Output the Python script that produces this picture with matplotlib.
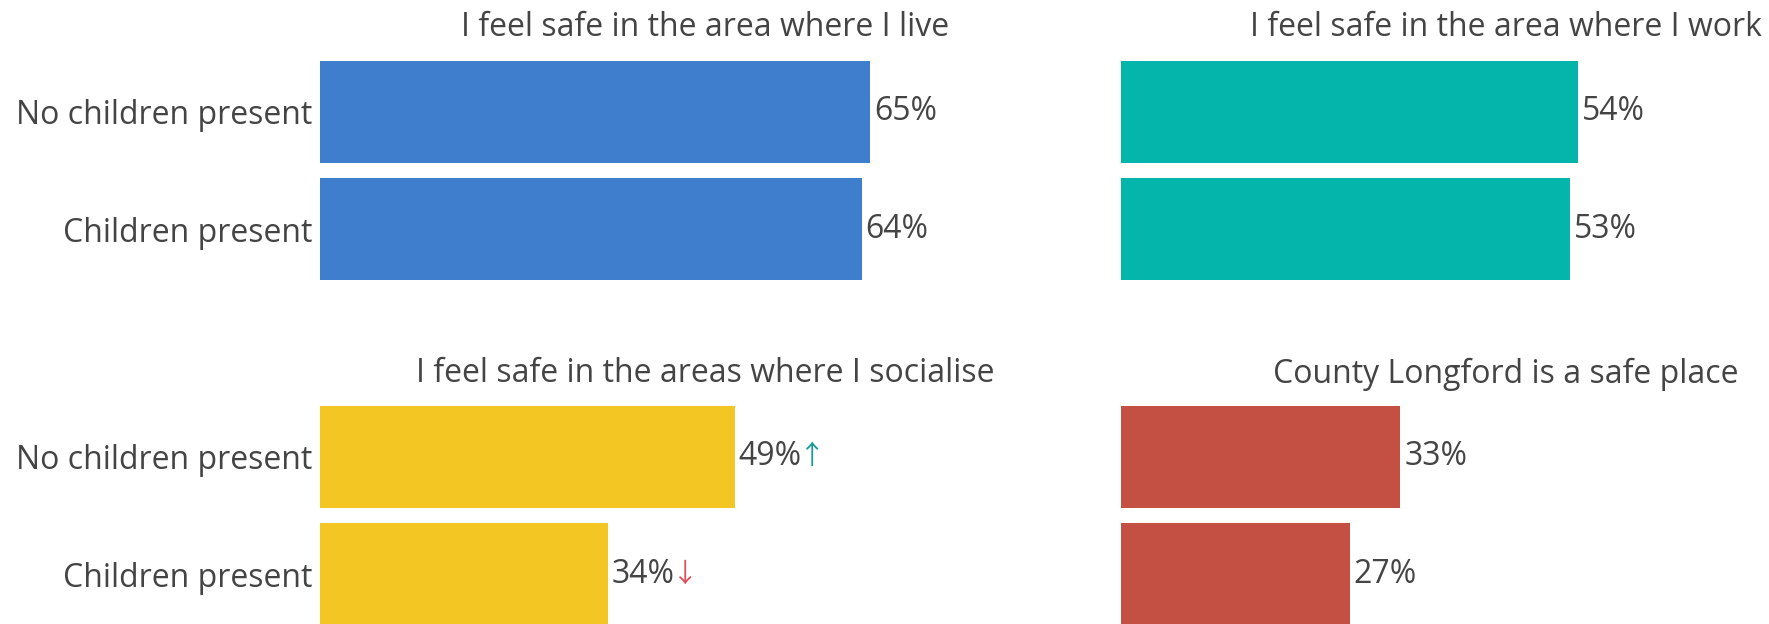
import matplotlib
matplotlib.use("Agg")
import matplotlib.pyplot as plt

# ---- data ----
groups = ["No children present", "Children present"]
titles = [
    "I feel safe in the area where I live",
    "I feel safe in the area where I work",
    "I feel safe in the areas where I socialise",
    "County Longford is a safe place",
]
values = [
    [65, 64],
    [54, 53],
    [49, 34],
    [33, 27],
]
# change markers next to the value labels ("" = none)
changes = [
    ["", ""],
    ["", ""],
    ["up", "down"],
    ["", ""],
]
colors = ["#3e7ecc", "#04b5ac", "#f4c623", "#c44f43"]

TEXT = "#444444"
ARROW_COL = {"up": "#1a9a94", "down": "#e0505a"}
ARROW_SYM = {"up": "\u2191", "down": "\u2193"}
FONT = ["Open Sans", "DejaVu Sans"]
ARROW_FONT = ["Noto Sans CJK SC", "DejaVu Sans"]
FS = 23

W, H = 1769, 624
fig = plt.figure(figsize=(W / 100, H / 100), dpi=100)
fig.patch.set_facecolor("white")

# panel geometry in pixels (left, top, width, height) -- bottom row runs off the canvas
px_left = [320.4, 1121.4]
px_top = [53.1, 398.3]
px_w, px_h = 769.4, 234.6
title_y = [27.0, 374.0]
xmax = max(max(v) for v in values) * 1.4

for i in range(4):
    r, c = divmod(i, 2)
    l, t = px_left[c], px_top[r]
    ax = fig.add_axes([l / W, 1 - (t + px_h) / H, px_w / W, px_h / H])
    ypos = list(range(len(groups)))
    ax.barh(ypos, values[i], height=0.866, color=colors[i], edgecolor="none")
    ax.set_xlim(0, xmax)
    ax.set_ylim(len(groups) - 0.5, -0.5)
    for s in ax.spines.values():
        s.set_visible(False)
    ax.set_xticks([])
    if c == 0:
        ax.set_yticks(ypos)
        ax.set_yticklabels(groups, fontsize=FS, color=TEXT, family=FONT)
        ax.tick_params(axis="y", length=0, pad=6)
    else:
        ax.set_yticks([])

    for y, v, ch in zip(ypos, values[i], changes[i]):
        lbl = ax.annotate(f"{v}%", xy=(v, y), xytext=(3, 0), textcoords="offset points",
                          va="center", ha="left", fontsize=FS, color=TEXT, family=FONT)
        if ch:
            ax.annotate(ARROW_SYM[ch], xy=(1, 0.5), xycoords=lbl, xytext=(-2, 0),
                        textcoords="offset points", va="center", ha="left",
                        fontsize=FS - 4, color=ARROW_COL[ch], family=ARROW_FONT)

    fig.text((l + px_w / 2) / W, 1 - title_y[r] / H, titles[i], ha="center", va="center",
             fontsize=FS, color=TEXT, family=FONT)

fig.savefig("out.png", dpi=100, facecolor="white")
